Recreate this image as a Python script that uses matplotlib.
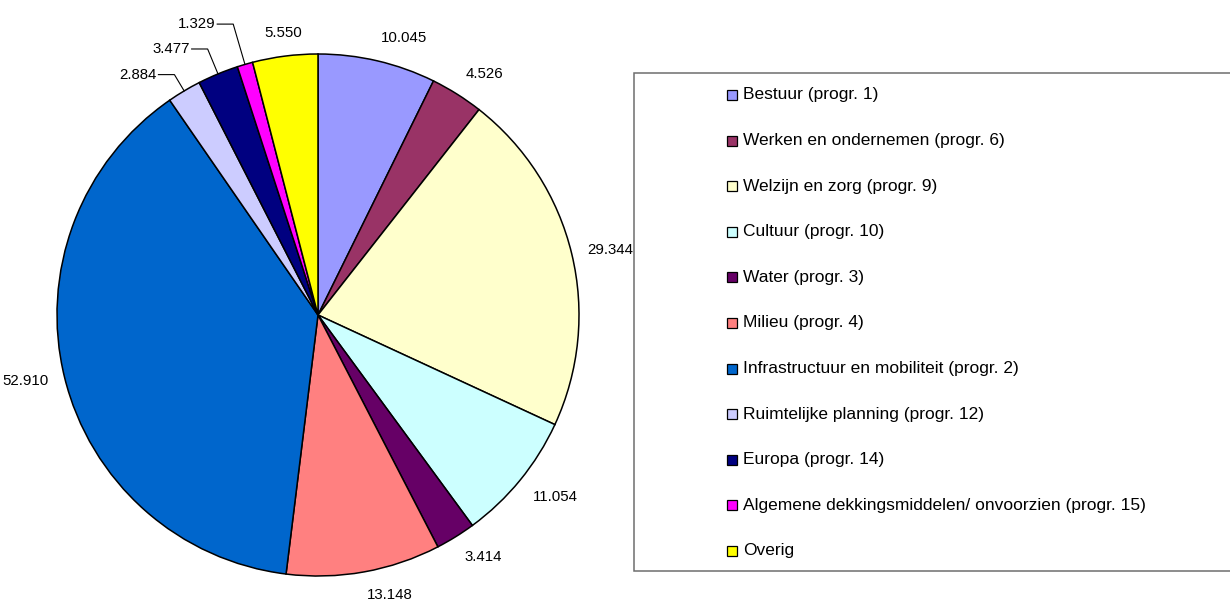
import numpy as np
import matplotlib

matplotlib.use("Agg")
import matplotlib.pyplot as plt
from matplotlib.patches import Rectangle

plt.rcParams["font.family"] = ["Liberation Sans", "DejaVu Sans"]

# data (amounts, Dutch thousands separator in labels)
categories = [
    "Bestuur (progr. 1)",
    "Werken en ondernemen (progr. 6)",
    "Welzijn en zorg (progr. 9)",
    "Cultuur (progr. 10)",
    "Water (progr. 3)",
    "Milieu (progr. 4)",
    "Infrastructuur en mobiliteit (progr. 2)",
    "Ruimtelijke planning (progr. 12)",
    "Europa (progr. 14)",
    "Algemene dekkingsmiddelen/ onvoorzien (progr. 15)",
    "Overig",
]
values = [10.045, 4.526, 29.344, 11.054, 3.414, 13.148, 52.910, 2.884, 3.477, 1.329, 5.550]
value_labels = ["10.045", "4.526", "29.344", "11.054", "3.414", "13.148",
                "52.910", "2.884", "3.477", "1.329", "5.550"]
colors = ["#9999FF", "#993366", "#FFFFCC", "#CCFFFF", "#660066", "#FF8080",
          "#0066CC", "#CCCCFF", "#000080", "#FF00FF", "#FFFF00"]
# extra radius (px) of the leader-line elbow for the crowded small slices
leader = [None, None, None, None, None, None, None, 19, 27, 42, None]

W, H = 1230, 601
fig = plt.figure(figsize=(W / 100, H / 100), dpi=100)
ax = fig.add_axes([0, 0, 1, 1])

cx, cy, R = 318, H - 315, 261
wedges, _ = ax.pie(values, colors=colors, startangle=90, counterclock=False,
                   center=(cx, cy), radius=R,
                   wedgeprops=dict(edgecolor="black", linewidth=1.1))

total = sum(values)
cum = np.cumsum([0] + values)
for i, w in enumerate(wedges):
    mid = np.deg2rad((cum[i] + values[i] / 2) / total * 360)  # clockwise from top
    s, c = np.sin(mid), np.cos(mid)
    ex, ey = cx + R * s, cy + R * c
    if leader[i] is not None:
        r2 = R + leader[i]
        bx, by = cx + r2 * s, cy + r2 * c
        ax.plot([ex, bx, bx - 16], [ey, by, by], color="black", lw=0.8)
        ax.text(bx - 18, by, value_labels[i], ha="right", va="center",
                fontsize=10.8)
        continue
    gap = 16
    tx, ty = ex + gap * s, ey + gap * c
    ha = "left" if s > 0.15 else ("right" if s < -0.15 else "center")
    va = "bottom" if c > 0.3 else ("top" if c < -0.3 else "center")
    ax.text(tx, ty, value_labels[i], ha=ha, va=va, fontsize=10.8)

# legend box
ax.add_patch(Rectangle((634, H - 571), 620, 498, facecolor="white",
                       edgecolor="#6e6e6e", linewidth=1.1, clip_on=False))
row0, step = 95, 45.6
for i, (name, col) in enumerate(zip(categories, colors)):
    yc = H - (row0 + i * step)
    ax.add_patch(Rectangle((727, yc - 5), 10, 10, facecolor=col,
                           edgecolor="black", linewidth=0.9))
    ax.text(743, yc, name, ha="left", va="center", fontsize=12.5)

ax.set_xlim(0, W)
ax.set_ylim(0, H)
ax.set_aspect("equal")
ax.axis("off")

fig.savefig("out.png", dpi=100, facecolor="white")
